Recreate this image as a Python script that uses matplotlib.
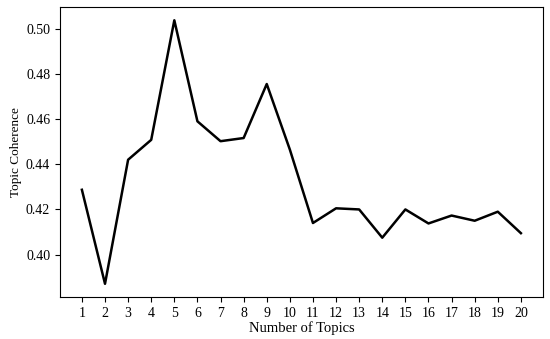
import matplotlib
matplotlib.use("Agg")
import matplotlib.pyplot as plt

# coherence score per number of topics
num_topics = list(range(1, 21))
coherence = [0.4287, 0.3871, 0.4420, 0.4508, 0.5037, 0.4590, 0.4502, 0.4516, 0.4755, 0.4465,
             0.4140, 0.4205, 0.4200, 0.4075, 0.4200, 0.4138, 0.4173, 0.4150, 0.4190, 0.4095]

plt.rcParams['font.family'] = ['Liberation Serif', 'DejaVu Serif']

fig = plt.figure(figsize=(5.5, 3.39), dpi=100)
ax = fig.add_axes([0.109, 0.124, 0.878, 0.855])
ax.plot(num_topics, coherence, color="black", linewidth=1.8)
ax.set_xticks(num_topics)
ax.set_yticks([0.40, 0.42, 0.44, 0.46, 0.48, 0.50])
ax.set_yticklabels(["%.2f" % v for v in [0.40, 0.42, 0.44, 0.46, 0.48, 0.50]])
ax.tick_params(labelsize=10)
ax.set_xlabel("Number of Topics", fontsize=10.5, labelpad=1)
ax.set_ylabel("Topic Coherence", fontsize=9.5, labelpad=3)
fig.savefig("out.png", dpi=100)
